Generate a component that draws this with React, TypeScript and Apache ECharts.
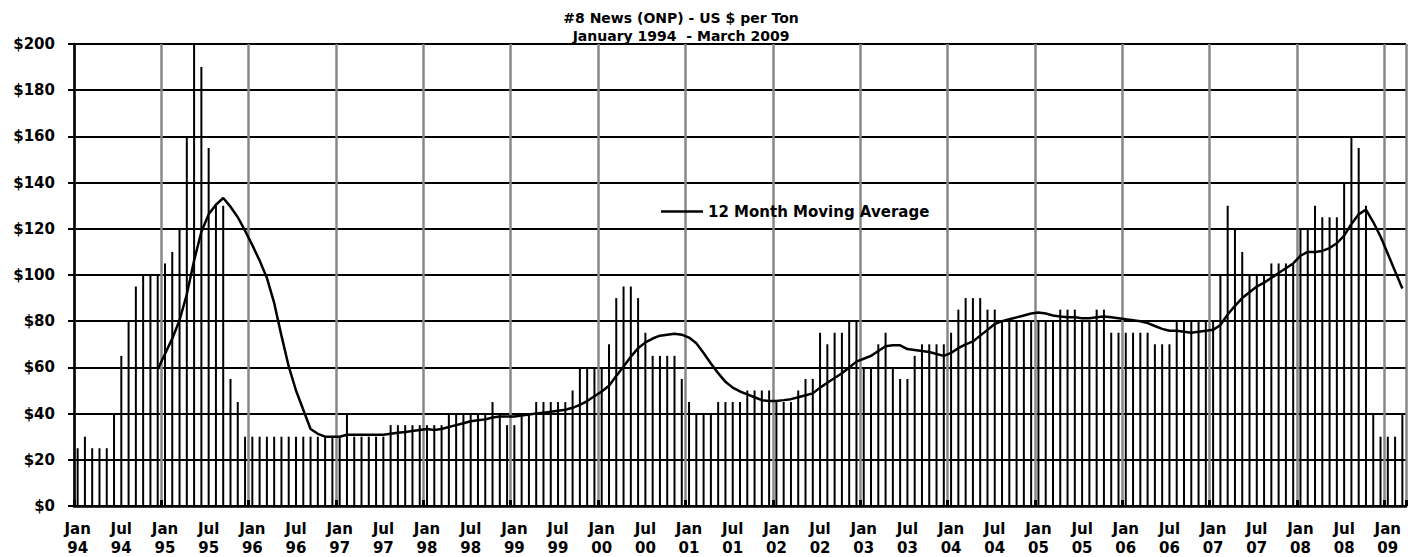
import React, { useEffect, useRef } from "react";
import * as echarts from "echarts";

// Monthly #8 News (ONP) prices, US $ per ton
const MONTHS = ["Jan", "Feb", "Mar", "Apr", "May", "Jun", "Jul", "Aug", "Sep", "Oct", "Nov", "Dec"];
const price1994 = [25, 30, 25, 25, 25, 40, 65, 80, 95, 100, 100, 100];
const price1995 = [105, 110, 120, 160, 200, 190, 155, 130, 130, 55, 45, 30];
const price1996 = [30, 30, 30, 30, 30, 30, 30, 30, 30, 30, 30, 30];
const price1997 = [30, 40, 30, 30, 30, 30, 30, 35, 35, 35, 35, 35];
const price1998 = [35, 35, 35, 40, 40, 40, 40, 40, 40, 45, 40, 35];
const price1999 = [35, 40, 40, 45, 45, 45, 45, 45, 50, 60, 60, 60];
const price2000 = [60, 70, 90, 95, 95, 90, 75, 65, 65, 65, 65, 55];
const price2001 = [45, 40, 40, 40, 45, 45, 45, 45, 50, 50, 50, 50];
const price2002 = [45, 45, 45, 50, 55, 55, 75, 70, 75, 75, 80, 80];
const price2003 = [60, 60, 70, 75, 60, 55, 55, 65, 70, 70, 70, 70];
const price2004 = [75, 85, 90, 90, 90, 85, 85, 80, 80, 80, 80, 80];
const price2005 = [80, 80, 80, 85, 85, 85, 80, 80, 85, 85, 75, 75];
const price2006 = [75, 75, 75, 75, 70, 70, 70, 80, 80, 80, 80, 80];
const price2007 = [80, 100, 130, 120, 110, 100, 100, 100, 105, 105, 105, 105];
const price2008 = [120, 120, 130, 125, 125, 125, 140, 160, 155, 130, 40, 30];
const price2009 = [30, 30, 40];

const YEARS = [1994, 1995, 1996, 1997, 1998, 1999, 2000, 2001, 2002, 2003, 2004, 2005, 2006, 2007, 2008, 2009];
const PRICES_BY_YEAR = [
  price1994, price1995, price1996, price1997, price1998, price1999, price2000, price2001,
  price2002, price2003, price2004, price2005, price2006, price2007, price2008, price2009,
];

const Y_TICKS = [0, 20, 40, 60, 80, 100, 120, 140, 160, 180, 200];
const TITLE = "#8 News (ONP) - US $ per Ton\nJanuary 1994  - March 2009";
const MA_NAME = "12 Month Moving Average";
const MA_WINDOW = 12;

const FONT = "DejaVu Sans";

export default function App() {
  const ref = useRef<HTMLDivElement>(null);

  useEffect(() => {
    if (!ref.current) return;
    const chart = echarts.init(ref.current, undefined, { renderer: "svg" });

    const categories: string[] = [];
    const prices: number[] = [];
    YEARS.forEach((y, yi) => {
      PRICES_BY_YEAR[yi].forEach((v, mi) => {
        categories.push(MONTHS[mi] + " " + String(y).slice(2));
        prices.push(v);
      });
    });
    // Trailing 12-month moving average (the chart's trendline)
    const movingAvg: (number | null)[] = prices.map((_, i) => {
      if (i < MA_WINDOW - 1) return null;
      let s = 0;
      for (let k = i - MA_WINDOW + 1; k <= i; k++) s += prices[k];
      return +(s / MA_WINDOW).toFixed(2);
    });

    chart.setOption({
      animation: false,
      backgroundColor: "#ffffff",
      title: {
        text: TITLE,
        left: 681,
        top: 9,
        textAlign: "center",
        padding: 0,
        textStyle: {
          fontFamily: FONT,
          fontWeight: "bold",
          fontSize: 14,
          lineHeight: 18,
          color: "#000",
        },
      },
      legend: {
        data: [{ name: MA_NAME, icon: "rect" }],
        left: 661,
        top: 204,
        padding: 0,
        itemWidth: 42,
        itemHeight: 2.5,
        textStyle: {
          fontFamily: FONT,
          fontWeight: "bold",
          fontSize: 15,
          color: "#000",
        },
      },
      grid: {
        left: 74,
        right: 12,
        top: 44,
        bottom: 51,
        containLabel: false,
        outerBoundsMode: "none",
      },
      xAxis: {
        type: "category",
        data: categories,
        boundaryGap: true,
        axisLine: { show: true, lineStyle: { color: "#000", width: 2.5 } },
        axisTick: {
          show: true,
          inside: true,
          interval: 11,
          length: 6,
          lineStyle: { color: "#000", width: 3 },
        },
        splitLine: {
          show: true,
          interval: 11,
          lineStyle: { color: "#888", width: 2.5 },
        },
        axisLabel: {
          interval: 5,
          margin: 13,
          fontFamily: FONT,
          fontWeight: "bold",
          fontSize: 15,
          lineHeight: 19,
          color: "#000",
          formatter: (v: string) => v.replace(" ", "\n"),
        },
      },
      yAxis: {
        type: "value",
        min: Y_TICKS[0],
        max: Y_TICKS[Y_TICKS.length - 1],
        interval: Y_TICKS[1] - Y_TICKS[0],
        axisLine: { show: true, lineStyle: { color: "#000", width: 2.5 } },
        axisTick: { show: true, inside: false, length: 6, lineStyle: { color: "#000", width: 2 } },
        splitLine: { show: true, lineStyle: { color: "#000", width: 2 } },
        axisLabel: {
          margin: 19,
          fontFamily: FONT,
          fontWeight: "bold",
          fontSize: 15,
          color: "#000",
          formatter: (v: number) => "$" + v,
        },
      },
      series: [
        {
          name: "Price",
          type: "bar",
          data: prices,
          barWidth: 2,
          itemStyle: { color: "#000" },
          z: 2,
        },
        {
          name: MA_NAME,
          type: "line",
          data: movingAvg,
          symbol: "none",
          smooth: false,
          lineStyle: { color: "#000", width: 2.5 },
          itemStyle: { color: "#000" },
          z: 3,
        },
      ],
    });

    return () => chart.dispose();
  }, []);

  return (
    <div
      ref={ref}
      style={{ position: "absolute", left: 0, top: 0, width: 1418, height: 557 }}
    />
  );
}
